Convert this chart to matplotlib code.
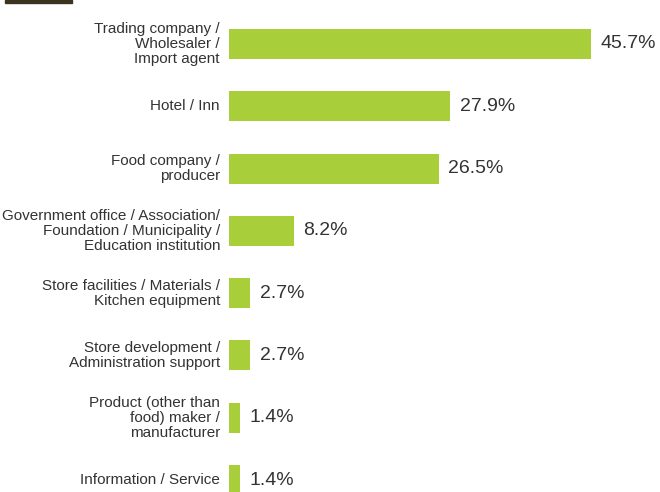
import matplotlib.pyplot as plt
from matplotlib.patches import Rectangle

categories = [
    "Trading company /\nWholesaler /\nImport agent",
    "Hotel / Inn",
    "Food company /\nproducer",
    "Government office / Association/\nFoundation / Municipality /\nEducation institution",
    "Store facilities / Materials /\nKitchen equipment",
    "Store development /\nAdministration support",
    "Product (other than\nfood) maker /\nmanufacturer",
    "Information / Service",
]
values = [45.7, 27.9, 26.5, 8.2, 2.7, 2.7, 1.4, 1.4]

bar_color = "#a8cf3a"
text_color = "#333333"
plt.rcParams["font.family"] = ["Liberation Sans", "DejaVu Sans"]

fig = plt.figure(figsize=(6.6, 4.92), dpi=100)
ax = fig.add_axes([229 / 660, 0, 431 / 660, 1])

y = list(range(len(values)))
ax.barh(y, values, height=0.48, color=bar_color)
ax.set_xlim(0, 45.7 * 431 / 362)
ax.set_ylim(7 + 12 / 62.3, -44 / 62.3)

for yi, v in zip(y, values):
    ax.text(v + 1.2, yi, f"{v}%", va="center", ha="left",
            fontsize=14, color=text_color)

for yi, lab in zip(y, categories):
    ax.annotate(lab, xy=(0, yi), xycoords="data", xytext=(-9, 0),
                textcoords="offset pixels", ha="right", va="center",
                fontsize=11, color=text_color, linespacing=1.1,
                multialignment="right")

ax.axis("off")

# dark strip at top-left corner
fig.patches.append(Rectangle((5 / 660, 1 - 3 / 492), 67 / 660, 3 / 492,
                             transform=fig.transFigure, color="#3a3320"))

fig.savefig("out.png", dpi=100)
